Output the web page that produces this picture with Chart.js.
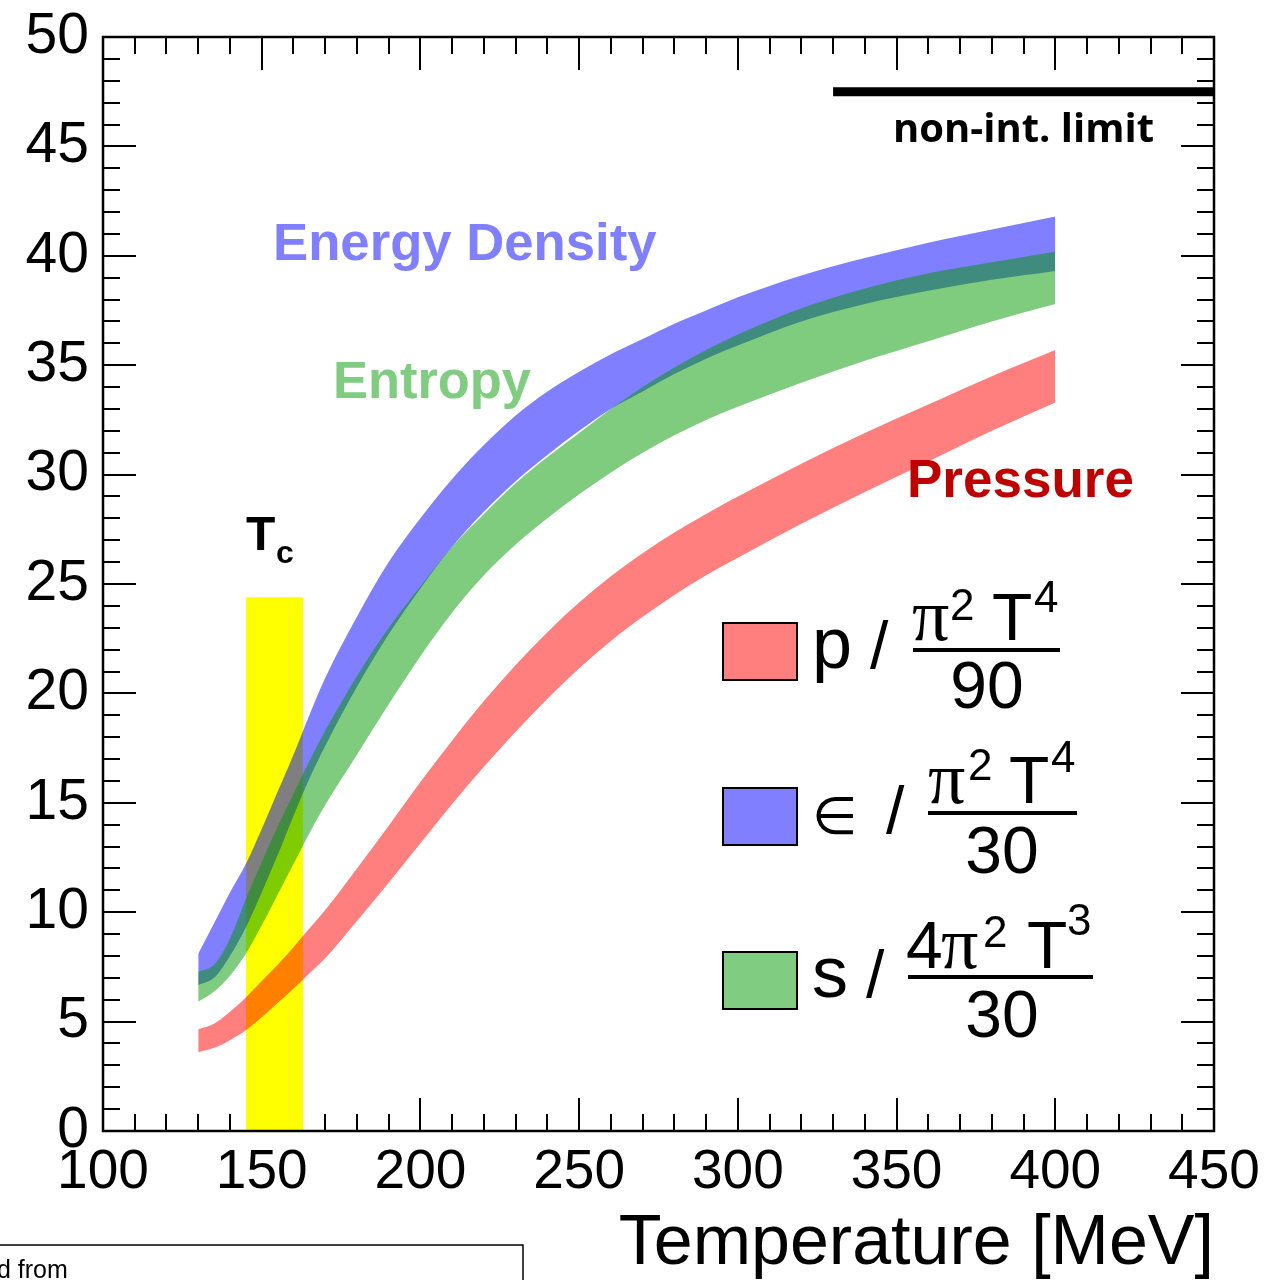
<!DOCTYPE html>
<html>
<head>
<meta charset="utf-8">
<script src="https://cdn.jsdelivr.net/npm/chart.js@4.4.1/dist/chart.umd.min.js"></script>
<style>
  html, body { margin: 0; padding: 0; background: #fff; }
  #wrap { width: 1273px; height: 1280px; }
</style>
</head>
<body>
<div id="wrap"><canvas id="eos" width="1273" height="1280"></canvas></div>
<script>
// temperature grid (MeV)
const temps = [130,135,140,145,150,155,160,165,170,180,190,200,210,220,230,240,250,260,270,280,290,300,320,340,360,380,400];

// pressure band  p/(pi^2 T^4/90)
const pLo = [3.6,3.8,4.15,4.6,5.2,5.85,6.5,7.2,7.9,9.6,11.35,13.15,14.95,16.65,18.25,19.75,21.15,22.4,23.5,24.5,25.4,26.2,27.75,29.2,30.6,32.0,33.3];
const pHi = [4.65,4.9,5.45,6.1,6.85,7.6,8.4,9.25,10.1,12.0,13.95,15.95,17.85,19.65,21.3,22.8,24.15,25.35,26.4,27.35,28.2,29.0,30.5,31.9,33.2,34.5,35.7];

// energy density band  e/(pi^2 T^4/30)
const eLo = [6.67,7.0,8.0,9.3,10.9,12.6,14.4,16.1,17.6,20.3,22.7,24.8,26.7,28.3,29.7,30.9,32.0,33.0,33.8,34.6,35.3,35.9,37.0,37.8,38.4,38.9,39.3];
const eHi = [8.1,9.5,10.9,12.2,13.8,15.5,17.2,19.0,20.7,23.5,26.0,28.0,29.8,31.35,32.7,33.8,34.7,35.5,36.2,36.9,37.5,38.1,39.1,39.9,40.6,41.2,41.8];

// entropy band  s/(4pi^2 T^3/30)
const sLo = [5.91,6.37,7.1,8.1,9.4,10.8,12.2,13.6,14.9,17.2,19.5,21.7,23.7,25.4,26.8,28.0,29.1,30.1,31.0,31.8,32.5,33.1,34.2,35.2,36.1,37.0,37.8];
const sHi = [7.28,7.6,8.8,10.6,12.3,13.9,15.4,16.9,18.3,20.8,23.0,24.9,26.7,28.2,29.6,30.8,31.9,33.0,34.0,34.9,35.7,36.4,37.6,38.5,39.2,39.7,40.2];

// Tc region and the non-interacting limit
const tcRange = [145, 163];
const tcTop = 24.4;
const sbRange = [330, 450];
const sbLimit = 47.5;

// axes: min, max, major step
const xTicks = [100, 450, 50];
const yTicks = [0, 50, 5];

const SANS = "'Liberation Sans', Arial, Helvetica, sans-serif";

function pts(ys) {
  return temps.map((t, i) => ({x: t, y: ys[i]}));
}

function edge(ys, order) {
  return {data: pts(ys), borderColor: 'rgba(0,0,0,0)', borderWidth: 0, pointRadius: 0,
          fill: false, order: order, cubicInterpolationMode: 'monotone'};
}

function band(ys, target, color, order) {
  return {data: pts(ys), borderColor: 'rgba(0,0,0,0)', borderWidth: 0, pointRadius: 0,
          fill: {target: target}, backgroundColor: color, order: order,
          cubicInterpolationMode: 'monotone'};
}

// draws a text scaled so it takes a given width
function fitText(ctx, str, x, y, w, weight, family, color) {
  ctx.font = weight + ' 100px ' + family;
  const size = 100 * w / ctx.measureText(str).width;
  ctx.font = weight + ' ' + size.toFixed(1) + 'px ' + family;
  ctx.fillStyle = color;
  ctx.textAlign = 'left';
  ctx.textBaseline = 'alphabetic';
  ctx.fillText(str, x, y);
}

function txt(ctx, str, x, y, font, align) {
  ctx.font = font;
  ctx.fillStyle = '#000';
  ctx.textAlign = align || 'left';
  ctx.textBaseline = 'alphabetic';
  ctx.fillText(str, x, y);
}

const frameTicks = {
  id: 'frameTicks',
  beforeDatasetsDraw(chart) {
    const {ctx, chartArea: a} = chart;
    const xs = chart.scales.x, ys = chart.scales.y;
    ctx.save();
    ctx.strokeStyle = '#000';
    ctx.lineWidth = 2;
    ctx.beginPath();
    for (let t = xTicks[0]; t <= xTicks[1]; t += 10) {
      const px = Math.round(xs.getPixelForValue(t));
      const len = t % xTicks[2] === 0 ? 33 : 17;
      ctx.moveTo(px, a.bottom); ctx.lineTo(px, a.bottom - len);
      ctx.moveTo(px, a.top); ctx.lineTo(px, a.top + len);
    }
    for (let v = yTicks[0]; v <= yTicks[1]; v += 1) {
      const py = Math.round(ys.getPixelForValue(v));
      const len = v % yTicks[2] === 0 ? 33 : 17;
      ctx.moveTo(a.left, py); ctx.lineTo(a.left + len, py);
      ctx.moveTo(a.right, py); ctx.lineTo(a.right - len, py);
    }
    ctx.stroke();
    ctx.restore();
  },
  afterDraw(chart) {
    const {ctx, chartArea: a} = chart;
    ctx.save();
    ctx.strokeStyle = '#000';
    ctx.lineWidth = 2.5;
    ctx.strokeRect(a.left, a.top, a.right - a.left, a.bottom - a.top);

    // curve labels
    fitText(ctx, 'Energy Density', 273, 260, 384, 'bold', SANS, '#7f7fff');
    fitText(ctx, 'Entropy', 333, 398, 198, 'bold', SANS, '#80cc80');
    fitText(ctx, 'Pressure', 907, 497, 227, 'bold', SANS, '#bf0000');
    fitText(ctx, 'non-int. limit', 893, 142, 261, 'bold', "'Open Sans', sans-serif", '#000');
    txt(ctx, 'T', 246, 550, 'bold 48px ' + SANS);
    txt(ctx, 'c', 276, 563, 'bold 32px ' + SANS);

    // legend boxes
    const boxes = [[623, '#ff7f7f'], [788, '#7f7fff'], [952, '#80cc80']];
    boxes.forEach(([y, c]) => {
      ctx.fillStyle = c;
      ctx.fillRect(723, y, 74, 57);
      ctx.lineWidth = 2;
      ctx.strokeRect(723, y, 74, 57);
    });

    const big = '66px ' + SANS, sup = '44px ' + SANS;
    const pi = "74px 'Liberation Serif', 'Times New Roman', serif";
    ctx.lineWidth = 4;
    // p / (pi^2 T^4 / 90)
    txt(ctx, 'p', 812, 668, '72px ' + SANS);
    txt(ctx, '/', 870, 668, big);
    txt(ctx, '\u03c0', 912, 640, pi);
    txt(ctx, '2', 950, 620, sup);
    txt(ctx, 'T', 992, 640, big);
    txt(ctx, '4', 1034, 612, sup);
    ctx.beginPath(); ctx.moveTo(913, 650); ctx.lineTo(1060, 650); ctx.stroke();
    txt(ctx, '90', 987, 708, big, 'center');
    // e / (pi^2 T^4 / 30)
    txt(ctx, '\u2208', 812, 834, "52px 'DejaVu Sans', sans-serif");
    txt(ctx, '/', 886, 833, big);
    txt(ctx, '\u03c0', 928, 803, pi);
    txt(ctx, '2', 968, 780, sup);
    txt(ctx, 'T', 1009, 803, big);
    txt(ctx, '4', 1051, 772, sup);
    ctx.beginPath(); ctx.moveTo(928, 813); ctx.lineTo(1077, 813); ctx.stroke();
    txt(ctx, '30', 1002, 873, big, 'center');
    // s / (4 pi^2 T^3 / 30)
    txt(ctx, 's', 812, 997, '72px ' + SANS);
    txt(ctx, '/', 866, 997, big);
    txt(ctx, '4', 906, 968, big);
    txt(ctx, '\u03c0', 941, 968, pi);
    txt(ctx, '2', 983, 947, sup);
    txt(ctx, 'T', 1027, 968, big);
    txt(ctx, '3', 1067, 935, sup);
    ctx.beginPath(); ctx.moveTo(908, 977); ctx.lineTo(1093, 977); ctx.stroke();
    txt(ctx, '30', 1002, 1037, big, 'center');

    // clipped source note box at the bottom left
    ctx.lineWidth = 1.5;
    ctx.strokeRect(-5, 1245, 528, 60);
    txt(ctx, 'd from', -3, 1278, '25px ' + SANS);
    ctx.restore();
  }
};

new Chart(document.getElementById('eos'), {
  type: 'line',
  data: {
    datasets: [
      edge(pLo, 1),
      band(pHi, 0, 'rgba(255,0,0,0.5)', 1),
      edge(eLo, 3),
      band(eHi, 2, 'rgba(0,0,255,0.5)', 3),
      edge(sLo, 2),
      band(sHi, 4, 'rgba(0,153,0,0.5)', 2),
      {data: [{x: tcRange[0], y: tcTop}, {x: tcRange[1], y: tcTop}], borderColor: 'rgba(0,0,0,0)',
       borderWidth: 0, pointRadius: 0, fill: 'origin', backgroundColor: '#ffff00', order: 5},
      {data: [{x: sbRange[0], y: sbLimit}, {x: sbRange[1], y: sbLimit}], borderColor: '#000',
       borderWidth: 9, borderCapStyle: 'butt', pointRadius: 0, fill: false, order: 0}
    ]
  },
  options: {
    responsive: false,
    animation: false,
    devicePixelRatio: 1,
    layout: {padding: {top: 37, right: 59, left: 0, bottom: 0}},
    plugins: {legend: {display: false}, tooltip: {enabled: false}},
    scales: {
      x: {
        type: 'linear', min: xTicks[0], max: xTicks[1],
        grid: {display: false, drawTicks: false}, border: {display: false},
        ticks: {stepSize: xTicks[2], maxRotation: 0, autoSkip: false, padding: 9, color: '#000',
                font: {family: SANS, size: 55}},
        title: {display: true, text: 'Temperature [MeV]', align: 'end', color: '#000',
                font: {family: SANS, size: 70, lineHeight: 1}, padding: 0},
        afterFit(scale) {
          scale.height = 149;
          scale.paddingLeft = 0; scale.paddingRight = 0;
        }
      },
      y: {
        min: yTicks[0], max: yTicks[1],
        grid: {display: false, drawTicks: false}, border: {display: false},
        ticks: {stepSize: yTicks[2], padding: 14, color: '#000', font: {family: SANS, size: 57}},
        afterFit(scale) {
          scale.width = 103;
          scale.paddingTop = 0; scale.paddingBottom = 0;
        }
      }
    }
  },
  plugins: [frameTicks]
});
</script>
</body>
</html>
